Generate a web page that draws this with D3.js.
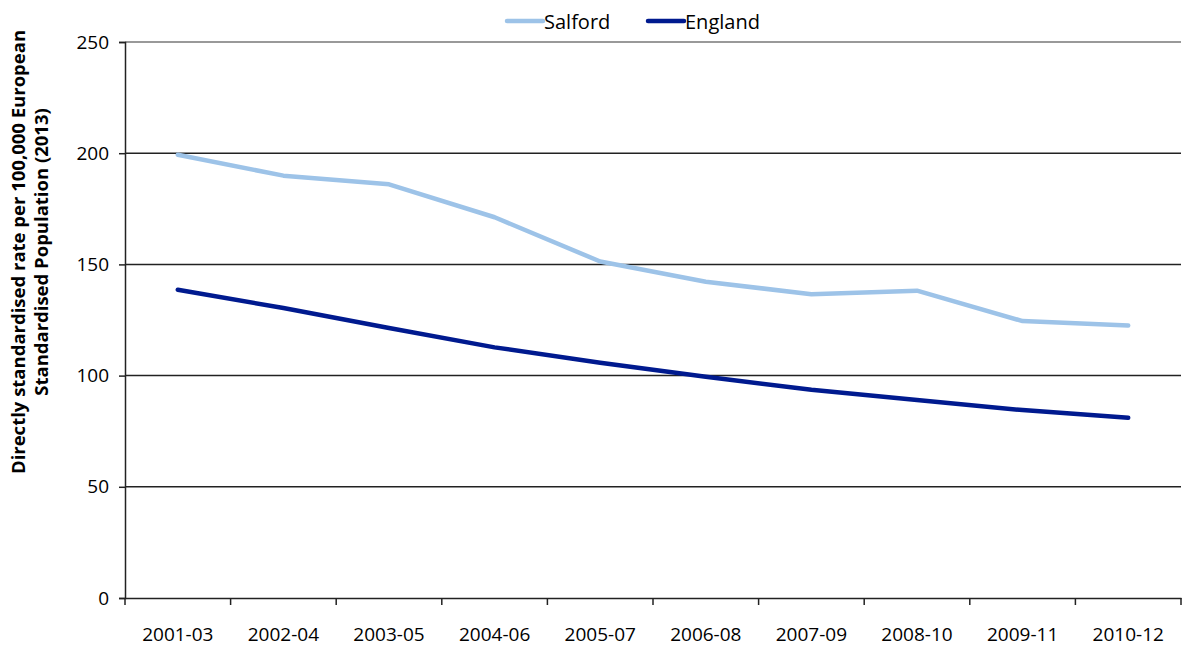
<!DOCTYPE html>
<meta charset="utf-8" />
<script src="https://d3js.org/d3.v7.min.js"></script>
<style>
	body { margin: 0; background: #fff; }
	text { font-family: 'Open Sans', sans-serif; }
</style>
<div id="my_dataviz"></div>
<script>
	// data
	var periods = ['2001-03', '2002-04', '2003-05', '2004-06', '2005-07', '2006-08', '2007-09', '2008-10', '2009-11', '2010-12'];
	var salford = [199.3, 189.9, 186.0, 171.2, 151.3, 142.2, 136.6, 138.2, 124.5, 122.5];
	var england = [138.6, 130.4, 121.4, 112.7, 105.8, 99.5, 93.6, 89.0, 84.5, 81.0];
	var yTicks = [0, 50, 100, 150, 200, 250];
	var seriesNames = ['Salford', 'England'];
	var seriesColors = ['#9dc3e8', '#001a8f'];

	var width = 1183, height = 648;
	var plotLeft = 125, plotRight = 1181, plotTop = 42, plotBottom = 598;

	var svg = d3.select('#my_dataviz')
		.append('svg')
		.attr('width', width)
		.attr('height', height);

	var x = d3.scaleBand().domain(periods).range([plotLeft, plotRight]);
	var y = d3.scaleLinear().domain([0, 250]).range([plotBottom, plotTop]);

	// gridlines
	svg.append('g')
		.selectAll('line')
		.data(yTicks.filter(function (d) { return d > 0; }))
		.enter()
		.append('line')
		.attr('x1', plotLeft)
		.attr('x2', plotRight)
		.attr('y1', function (d) { return y(d); })
		.attr('y2', function (d) { return y(d); })
		.style('stroke', function (d) { return d === 250 ? '#999' : '#222'; })
		.style('stroke-width', function (d) { return d === 250 ? 2 : 1.5; });

	// Y axis
	var yAxis = svg.append('g')
		.attr('transform', 'translate(' + plotLeft + ',0)')
		.call(d3.axisLeft(y).tickValues(yTicks).tickSize(6).tickPadding(10));
	yAxis.select('.domain').attr('stroke', '#222').attr('stroke-width', 1.5);
	yAxis.selectAll('.tick line').attr('stroke', '#222').attr('stroke-width', 1.5);
	yAxis.selectAll('.tick text')
		.style('font-size', '19px')
		.attr('fill', '#000');

	// X axis
	var xAxis = svg.append('g')
		.attr('transform', 'translate(0,' + plotBottom + ')')
		.call(d3.axisBottom(x).tickSize(0).tickPadding(30));
	xAxis.select('.domain').attr('stroke', '#222').attr('stroke-width', 1.5);
	xAxis.selectAll('.tick text')
		.style('font-size', '19px')
		.attr('fill', '#000');
	// category boundary ticks
	svg.append('g')
		.selectAll('line')
		.data(periods.concat(['end']))
		.enter()
		.append('line')
		.attr('x1', function (d, i) { return i < periods.length ? x(d) : plotRight; })
		.attr('x2', function (d, i) { return i < periods.length ? x(d) : plotRight; })
		.attr('y1', plotBottom)
		.attr('y2', plotBottom + 7)
		.style('stroke', '#222')
		.style('stroke-width', 1.5);

	// lines
	var line = d3.line()
		.x(function (d, i) { return x(periods[i]) + x.bandwidth() / 2; })
		.y(function (d) { return y(d); });

	[salford, england].forEach(function (vals, k) {
		svg.append('path')
			.datum(vals)
			.attr('d', line)
			.style('fill', 'none')
			.style('stroke', seriesColors[k])
			.style('stroke-width', 4.5)
			.style('stroke-linecap', 'round')
			.style('stroke-linejoin', 'round');
	});

	// legend
	var legendX = [507, 648];
	seriesNames.forEach(function (name, k) {
		svg.append('line')
			.attr('x1', legendX[k])
			.attr('x2', legendX[k] + 36)
			.attr('y1', 21)
			.attr('y2', 21)
			.style('stroke', seriesColors[k])
			.style('stroke-width', 4.5)
			.style('stroke-linecap', 'round');
		svg.append('text')
			.attr('x', legendX[k] + 37)
			.attr('y', 29)
			.style('font-size', '20px')
			.attr('fill', '#000')
			.text(name);
	});

	// Y label
	var ylab = svg.append('text')
		.attr('text-anchor', 'middle')
		.attr('transform', 'translate(25, 252)rotate(-90)')
		.style('font-size', '18.5px')
		.style('font-weight', 'bold')
		.attr('fill', '#000');
	ylab.append('tspan').attr('x', 0).attr('dy', 0).text('Directly standardised rate per 100,000 European');
	ylab.append('tspan').attr('x', 0).attr('dy', 23).text('Standardised Population (2013)');
</script>
